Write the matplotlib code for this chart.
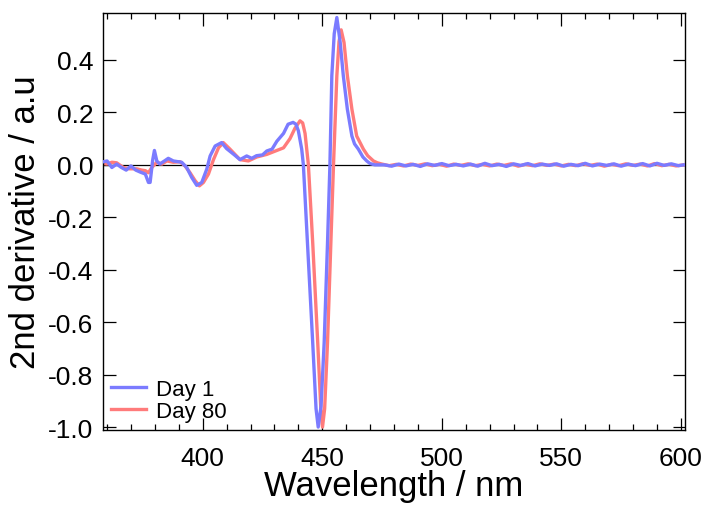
import numpy as np
import matplotlib
matplotlib.use('Agg')
import matplotlib.pyplot as plt
from matplotlib.ticker import MultipleLocator

plt.rcParams['font.family'] = ['Liberation Sans', 'DejaVu Sans']

# 2nd derivative spectra
wl_day1 = [358.5, 360, 362, 364, 366, 368, 370, 372, 374, 376, 377.3, 378, 379.1, 379.8,
           380.8, 382, 384, 385.6, 387.7, 389.8, 391.2, 393.3, 395.4, 397.5, 399.6, 401.7,
           403.1, 405.2, 407.9, 410, 413, 415.6, 418.4, 420.5, 422.5, 425, 426.8, 429, 431,
           433.8, 435.7, 437.8, 439, 440, 441.4, 442.1, 443.8, 446.0, 447.4, 448.3, 449.5,
           450.8, 452.2, 453.2, 454.0, 455.0, 456.1, 457.5, 458.8, 460.5, 462.4, 463.5,
           465.1, 467, 468.6, 470, 472,
           476, 479, 482, 485, 488, 491, 494, 497, 500, 503, 506, 509, 512, 515, 518, 521,
           524, 527, 530, 533, 536, 539, 542, 545, 548, 551, 554, 557, 560, 563, 566, 569,
           572, 575, 578, 581, 584, 587, 590, 593, 596, 599, 601]
d2_day1 = [0.012, 0.015, -0.01, 0.003, -0.01, -0.02, -0.004, -0.02, -0.028, -0.035, -0.067,
           -0.067, 0.02, 0.055, 0.015, 0.003, 0.015, 0.025, 0.015, 0.012, 0.01, -0.01, -0.048,
           -0.078, -0.067, -0.016, 0.034, 0.072, 0.085, 0.062, 0.04, 0.02, 0.034, 0.025, 0.035,
           0.038, 0.053, 0.06, 0.09, 0.12, 0.155, 0.162, 0.155, 0.13, 0.06, 0.0, -0.296,
           -0.677, -0.93, -1.0, -0.92, -0.677, -0.296, 0.0, 0.34, 0.50, 0.562, 0.467, 0.34,
           0.212, 0.11, 0.08, 0.06, 0.03, 0.015, 0.005, 0.0,
           0.0, -0.005, 0.003, -0.004, 0.002, -0.006, 0.004, -0.002, 0.005, -0.003, 0.002,
           -0.004, 0.003, -0.005, 0.006, -0.003, 0.002, -0.006, 0.004, -0.002, 0.005, -0.004,
           0.003, -0.002, 0.004, -0.005, 0.002, -0.003, 0.006, -0.004, 0.003, -0.002, 0.004,
           -0.005, 0.003, -0.003, 0.005, -0.004, 0.006, -0.002, 0.004, -0.003, 0.0]

wl_day80 = [358.5, 360, 362, 364, 366.8, 369.4, 372.4, 374.5, 376, 377.3, 378.7, 380.8,
            382.9, 385, 387.7, 390.5, 392.6, 394.7, 396.8, 398.6, 400.3, 402.4, 404.5, 406.6,
            408.6, 411.4, 415.6, 419.1, 422.6, 426.8, 431, 433.8, 436.5, 438.6, 440.7, 441.8,
            442.8, 443.5, 444.2, 446.0, 448.1, 449.4, 450.1, 451.0, 452.2, 453.6, 454.7,
            456.1, 457.0, 457.9, 459.1, 460.5, 462.4, 464.4, 467.2, 469, 471.4, 473, 475,
            478, 481, 484, 487, 490, 493, 496, 499, 502, 505, 508, 511, 514, 517, 520, 523,
            526, 529, 532, 535, 538, 541, 544, 547, 550, 553, 556, 559, 562, 565, 568, 571,
            574, 577, 580, 583, 586, 589, 592, 595, 598, 601]
d2_day80 = [0.005, 0.003, 0.01, 0.008, -0.01, -0.015, -0.015, -0.02, -0.022, -0.03, -0.01,
            0.01, 0.003, 0.015, 0.01, 0.012, -0.004, -0.03, -0.06, -0.08, -0.067, -0.035,
            0.02, 0.065, 0.085, 0.06, 0.02, 0.015, 0.03, 0.04, 0.055, 0.065, 0.10, 0.14,
            0.168, 0.16, 0.12, 0.06, 0.0, -0.296, -0.677, -0.93, -1.0, -0.93, -0.677, -0.296,
            0.0, 0.34, 0.47, 0.515, 0.467, 0.34, 0.212, 0.11, 0.06, 0.035, 0.015, 0.008, 0.003,
            -0.003, 0.002, -0.004, 0.003, -0.002, 0.004, -0.003, 0.002, -0.005, 0.003, -0.002,
            0.004, -0.003, 0.002, -0.004, 0.003, -0.002, 0.004, -0.005, 0.002, -0.003, 0.004,
            -0.002, 0.003, -0.004, 0.002, -0.003, 0.004, -0.002, 0.003, -0.005, 0.002, -0.003,
            0.004, -0.002, 0.003, -0.004, 0.005, -0.003, 0.002, -0.004, 0.0]

fig = plt.figure(figsize=(7.09, 5.06), dpi=100)
ax = fig.add_axes([0.1453, 0.1488, 0.8208, 0.8229])

ax.axhline(0, color='black', lw=0.9, zorder=1)
ax.plot(wl_day1, d2_day1, color='#7b7bff', lw=2.4, label='Day 1', zorder=3)
ax.plot(wl_day80, d2_day80, color='#ff7b7b', lw=2.4, label='Day 80', zorder=2)

ax.set_xlim(358.3, 601.7)
ax.set_ylim(-1.01, 0.578)

ax.xaxis.set_major_locator(MultipleLocator(50))
ax.xaxis.set_minor_locator(MultipleLocator(10))
ax.yaxis.set_major_locator(MultipleLocator(0.2))
ax.yaxis.set_major_formatter(matplotlib.ticker.FormatStrFormatter('%.1f'))

ax.tick_params(axis='both', which='both', direction='in', top=True, right=True,
               labelsize=19, width=0.9)
ax.tick_params(axis='y', pad=7)
ax.tick_params(axis='x', pad=12)
ax.tick_params(which='major', length=9)
ax.tick_params(which='minor', length=4.5)
for s in ax.spines.values():
    s.set_linewidth(1.0)

ax.set_xlabel('Wavelength / nm', fontsize=25, labelpad=-1)
ax.set_ylabel('2nd derivative / a.u', fontsize=25, labelpad=4)

ax.legend(loc='lower left', frameon=False, fontsize=16, handlelength=1.6,
          handletextpad=0.45, borderpad=0.2, borderaxespad=0.15, labelspacing=0.05)

fig.savefig('out.png', dpi=100)
